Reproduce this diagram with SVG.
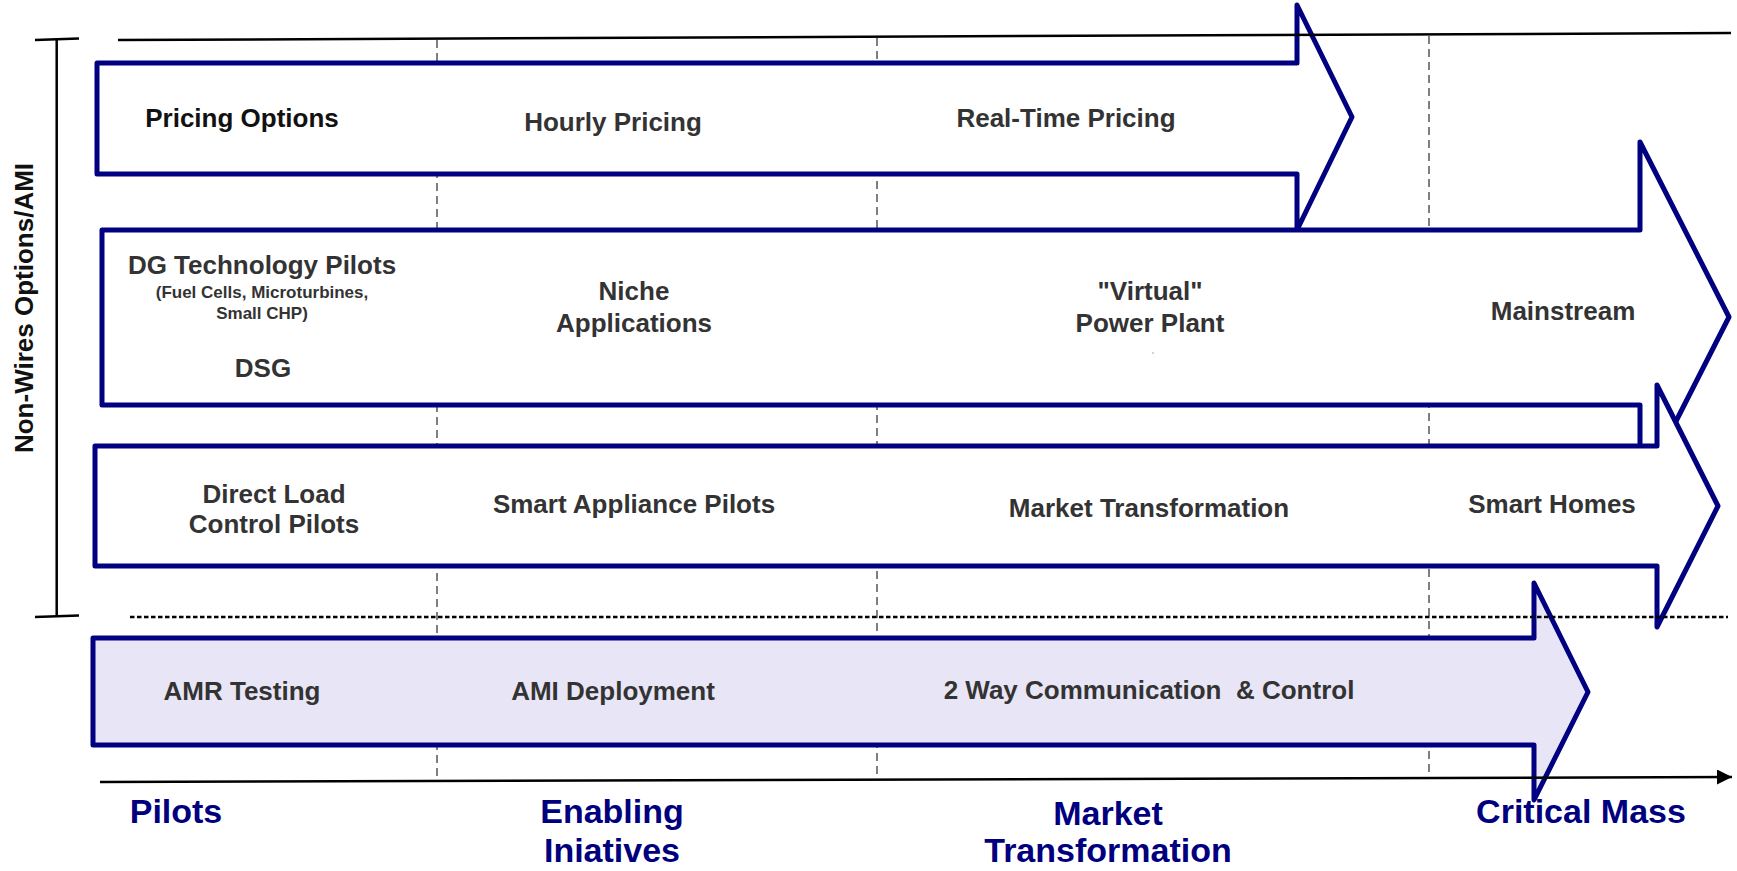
<svg xmlns="http://www.w3.org/2000/svg" width="1737" height="871" viewBox="0 0 1737 871">
<style>
.arr{fill:#ffffff;stroke:#000080;stroke-width:5;stroke-linejoin:round}
.arr4{fill:#e8e6f6}
.lbl{font-family:"Liberation Sans",Arial,sans-serif;font-weight:bold;font-size:26px;fill:#333333;text-anchor:middle}
.small{font-size:17px}
.phase{font-family:"Liberation Sans",Arial,sans-serif;font-weight:bold;font-size:34px;fill:#00007f;text-anchor:middle}
.vdash{stroke:#555555;stroke-width:1.5;stroke-dasharray:8 5;fill:none}
.solid{stroke:#000000;stroke-width:2.5;fill:none}
</style>
<defs>
<marker id="axhead" viewBox="0 0 10 10" refX="10" refY="5" markerWidth="8" markerHeight="6" markerUnits="strokeWidth" orient="auto">
<path d="M0,0 L10,5 L0,10 Z" fill="#000000"/>
</marker>
</defs>
<rect x="0" y="0" width="1737" height="871" fill="#ffffff"/>

<g id="phase-dividers">
<line class="vdash" x1="437" y1="40" x2="437" y2="781"/>
<line class="vdash" x1="877" y1="38" x2="877" y2="780"/>
<line class="vdash" x1="1429" y1="36" x2="1429" y2="778"/>
</g>

<g id="pricing-options">
<polygon class="arr" points="97,63 1297,63 1297,5 1352,117 1297,230 1297,174 97,174"/>
<text class="lbl" x="242" y="127" style="fill:#111111">Pricing Options</text>
<text class="lbl" x="613" y="131">Hourly Pricing</text>
<text class="lbl" x="1066" y="127">Real-Time Pricing</text>
</g>

<g id="dg-technology">
<polygon class="arr" points="102,230 1640,230 1640,142 1729,317 1640,492 1640,405 102,405"/>
<text class="lbl" x="262" y="274">DG Technology Pilots</text>
<text class="lbl small" x="262" y="298">(Fuel Cells, Microturbines,</text>
<text class="lbl small" x="262" y="319">Small CHP)</text>
<text class="lbl" x="263" y="377">DSG</text>
<text class="lbl" x="634" y="300">Niche</text>
<text class="lbl" x="634" y="332">Applications</text>
<text class="lbl" x="1150" y="300">"Virtual"</text>
<text class="lbl" x="1150" y="332">Power Plant</text>
<circle cx="1153" cy="353" r="0.8" fill="#999999"/>
<text class="lbl" x="1563" y="320">Mainstream</text>
</g>

<g id="load-control">
<polygon class="arr" points="95,446 1657,446 1657,385 1718,506 1657,627 1657,566 95,566"/>
<text class="lbl" x="274" y="503">Direct Load</text>
<text class="lbl" x="274" y="533">Control Pilots</text>
<text class="lbl" x="634" y="513">Smart Appliance Pilots</text>
<text class="lbl" x="1149" y="517">Market Transformation</text>
<text class="lbl" x="1552" y="513">Smart Homes</text>
</g>

<g id="ami">
<polygon class="arr arr4" points="93,638 1534,638 1534,583 1588,692 1534,800 1534,745 93,745"/>
<text class="lbl" x="242" y="700">AMR Testing</text>
<text class="lbl" x="613" y="700">AMI Deployment</text>
<text class="lbl" x="1149" y="699" style="white-space:pre">2 Way Communication  &amp; Control</text>
</g>

<g id="connectors">
<line class="solid" x1="118" y1="40" x2="1731" y2="33"/>
<line class="solid" x1="56.7" y1="39" x2="56.7" y2="616"/>
<line class="solid" x1="35" y1="40" x2="79" y2="38.5"/>
<line class="solid" x1="35" y1="617" x2="79" y2="615.5"/>
<line x1="130" y1="617" x2="1728" y2="617" stroke="#000000" stroke-width="2.6" stroke-dasharray="4.5 2.5"/>
<line class="solid" x1="100" y1="782" x2="1732" y2="777" marker-end="url(#axhead)"/>
</g>

<g id="non-wires-label">
<text x="0" y="0" transform="translate(33,308) rotate(-90)" style="font-family:'Liberation Sans',Arial,sans-serif;font-weight:bold;font-size:26px;fill:#111111;text-anchor:middle">Non-Wires Options/AMI</text>
</g>

<g id="phases">
<text class="phase" x="176" y="823">Pilots</text>
<text class="phase" x="612" y="823">Enabling</text>
<text class="phase" x="612" y="862">Iniatives</text>
<text class="phase" x="1108" y="825">Market</text>
<text class="phase" x="1108" y="862">Transformation</text>
<text class="phase" x="1581" y="823">Critical Mass</text>
</g>
</svg>
